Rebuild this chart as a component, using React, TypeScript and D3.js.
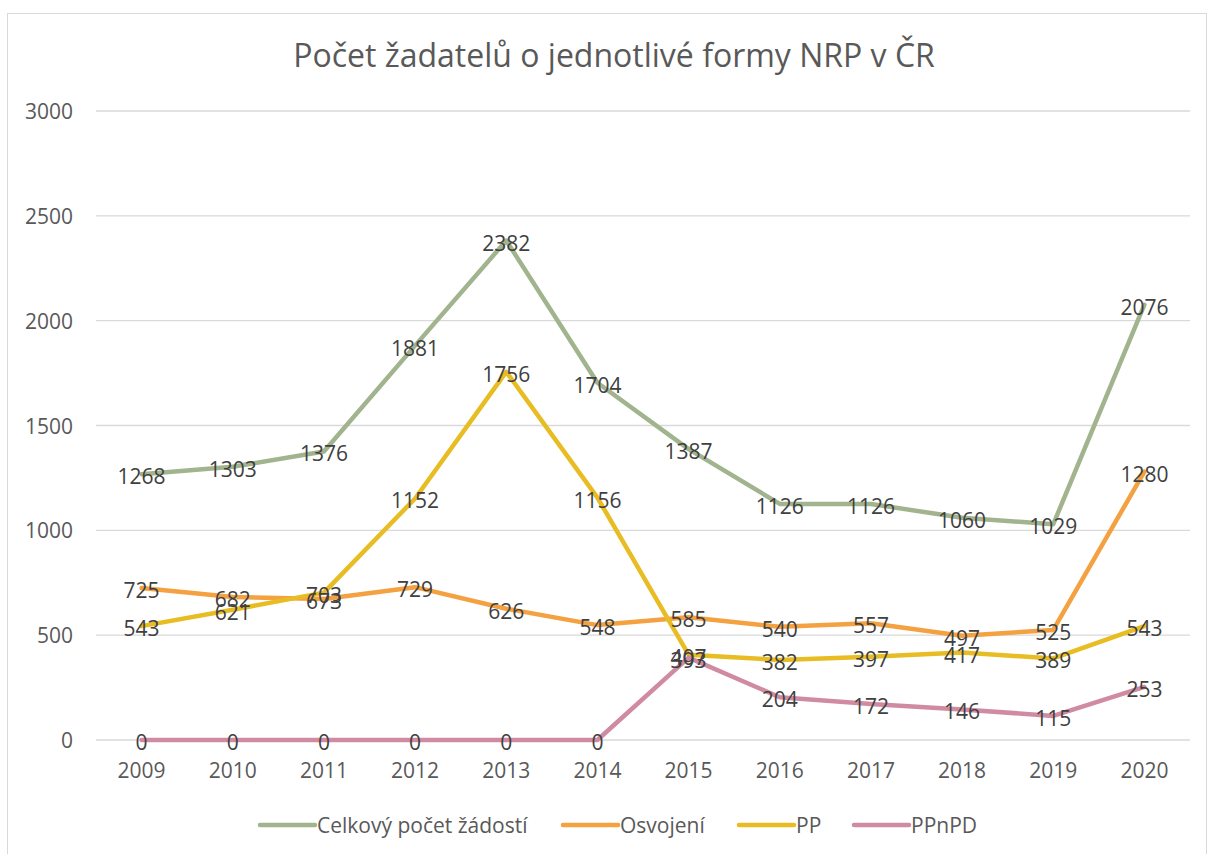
import * as d3 from "d3";

const YEARS = ["2009", "2010", "2011", "2012", "2013", "2014", "2015", "2016", "2017", "2018", "2019", "2020"];
const CELKOVY = [1268, 1303, 1376, 1881, 2382, 1704, 1387, 1126, 1126, 1060, 1029, 2076];
const OSVOJENI = [725, 682, 673, 729, 626, 548, 585, 540, 557, 497, 525, 1280];
const PP = [543, 621, 703, 1152, 1756, 1156, 407, 382, 397, 417, 389, 543];
const PPNPD = [0, 0, 0, 0, 0, 0, 393, 204, 172, 146, 115, 253];
const Y_TICKS = [0, 500, 1000, 1500, 2000, 2500, 3000];

const SERIES = [
  { name: "Celkový počet žádostí", values: CELKOVY, color: "#a1b48e" },
  { name: "Osvojení", values: OSVOJENI, color: "#f4a142" },
  { name: "PP", values: PP, color: "#e8bc23" },
  { name: "PPnPD", values: PPNPD, color: "#d08ba3" },
];

const WIDTH = 1209;
const HEIGHT = 854;
const FONT = "'Open Sans', sans-serif";
const TEXT = "#595959";

// legend item start positions (line start), line length
const LEGEND_X = [260, 563, 739, 854];
const LEGEND_LINE = 55;

export default function App() {
  const x = d3.scalePoint<string>().domain(YEARS).range([96, 1190]).padding(0.5);
  const y = d3.scaleLinear().domain([0, 3000]).range([740, 111]);
  const line = d3
    .line<number>()
    .x((_, i) => x(YEARS[i]) ?? 0)
    .y((v) => y(v));

  return (
    <svg
      width={WIDTH}
      height={HEIGHT}
      style={{ position: "absolute", left: 0, top: 0, background: "#fff" }}
      fontFamily={FONT}
    >
      <rect x={7.5} y={13.5} width={1199} height={900} fill="#fff" stroke="#d9d9d9" />
      <text x={614} y={67} textAnchor="middle" fontSize={32} fill={TEXT}>
        Počet žadatelů o jednotlivé formy NRP v ČR
      </text>

      {Y_TICKS.map((t) => (
        <g key={t}>
          <line x1={96} x2={1190} y1={y(t)} y2={y(t)} stroke="#d9d9d9" strokeWidth={1.3} />
          <text x={73} y={y(t)} textAnchor="end" dominantBaseline="central" fontSize={21} fill={TEXT}>
            {t}
          </text>
        </g>
      ))}

      {YEARS.map((yr) => (
        <text key={yr} x={x(yr)} y={770} textAnchor="middle" dominantBaseline="central" fontSize={21} fill={TEXT}>
          {yr}
        </text>
      ))}

      {SERIES.map((s) => (
        <path
          key={s.name}
          d={line(s.values) ?? ""}
          fill="none"
          stroke={s.color}
          strokeWidth={4.5}
          strokeLinejoin="round"
          strokeLinecap="round"
        />
      ))}

      {SERIES.map((s) =>
        s.values.map((v, i) => (
          <text
            key={s.name + i}
            x={x(YEARS[i])}
            y={y(v) + 2}
            textAnchor="middle"
            dominantBaseline="central"
            fontSize={21}
            fill="#404040"
          >
            {v}
          </text>
        ))
      )}

      {SERIES.map((s, i) => (
        <g key={s.name} transform={`translate(${LEGEND_X[i]}, 825)`}>
          <line x1={0} x2={LEGEND_LINE} y1={0} y2={0} stroke={s.color} strokeWidth={4.5} strokeLinecap="round" />
          <text x={LEGEND_LINE + 2} y={0} dominantBaseline="central" fontSize={21} fill={TEXT}>
            {s.name}
          </text>
        </g>
      ))}
    </svg>
  );
}
